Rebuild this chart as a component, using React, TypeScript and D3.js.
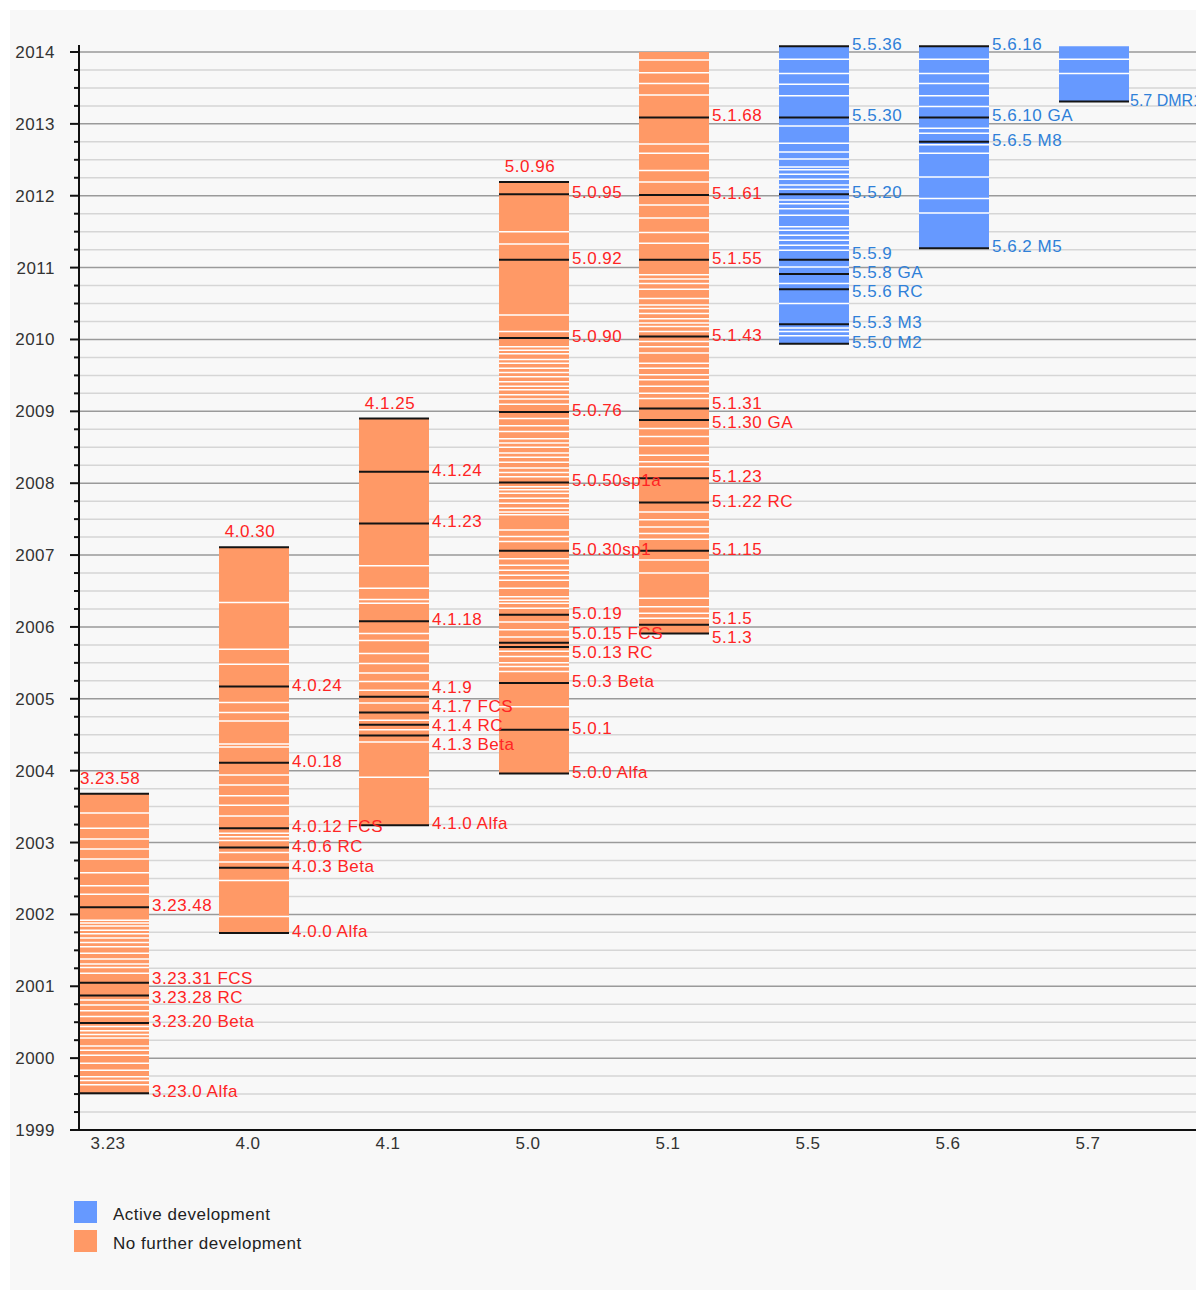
import * as d3 from 'd3';

// MySQL release timeline: one bar per major version, one line per release
const versions = ['3.23', '4.0', '4.1', '5.0', '5.1', '5.5', '5.6', '5.7'];
const activeVersions = ['5.5', '5.6', '5.7'];
const yearLabels = [1999, 2000, 2001, 2002, 2003, 2004, 2005, 2006, 2007, 2008, 2009, 2010, 2011, 2012, 2013, 2014];

// top of each bar (last release, or "now" for lines still shipping)
const barEnds = [2003.68, 2007.11, 2008.9, 2012.19, 2014.0, 2014.08, 2014.08, 2014.08];

// named releases (black lines + label), [name, decimal year]
const named323: [string, number][] = [
  ['3.23.0 Alfa', 1999.51], ['3.23.20 Beta', 2000.49], ['3.23.28 RC', 2000.87],
  ['3.23.31 FCS', 2001.05], ['3.23.48', 2002.1], ['3.23.58', 2003.68],
];
const named40: [string, number][] = [
  ['4.0.0 Alfa', 2001.74], ['4.0.3 Beta', 2002.65], ['4.0.6 RC', 2002.93],
  ['4.0.12 FCS', 2003.2], ['4.0.18', 2004.11], ['4.0.24', 2005.17], ['4.0.30', 2007.11],
];
const named41: [string, number][] = [
  ['4.1.0 Alfa', 2003.24], ['4.1.3 Beta', 2004.49], ['4.1.4 RC', 2004.64], ['4.1.7 FCS', 2004.81],
  ['4.1.9', 2005.03], ['4.1.18', 2006.08], ['4.1.23', 2007.44], ['4.1.24', 2008.16], ['4.1.25', 2008.9],
];
const named50: [string, number][] = [
  ['5.0.0 Alfa', 2003.96], ['5.0.1', 2004.57], ['5.0.3 Beta', 2005.22], ['5.0.13 RC', 2005.72],
  ['5.0.15 FCS', 2005.78], ['5.0.19', 2006.17], ['5.0.30sp1', 2007.06], ['5.0.50sp1a', 2008.01],
  ['5.0.76', 2008.99], ['5.0.90', 2010.02], ['5.0.92', 2011.11], ['5.0.95', 2012.02], ['5.0.96', 2012.19],
];
const named51: [string, number][] = [
  ['5.1.3', 2005.91], ['5.1.5', 2006.03], ['5.1.15', 2007.06], ['5.1.22 RC', 2007.73],
  ['5.1.23', 2008.07], ['5.1.30 GA', 2008.88], ['5.1.31', 2009.04], ['5.1.43', 2010.04],
  ['5.1.55', 2011.11], ['5.1.61', 2012.01], ['5.1.68', 2013.09],
];
const named55: [string, number][] = [
  ['5.5.0 M2', 2009.94], ['5.5.3 M3', 2010.21], ['5.5.6 RC', 2010.7], ['5.5.8 GA', 2010.91],
  ['5.5.9', 2011.11], ['5.5.20', 2012.02], ['5.5.30', 2013.09], ['5.5.36', 2014.08],
];
const named56: [string, number][] = [
  ['5.6.2 M5', 2011.27], ['5.6.5 M8', 2012.75], ['5.6.10 GA', 2013.09], ['5.6.16', 2014.08],
];
const named57: [string, number][] = [['5.7 DMR1', 2013.31]];

// the other releases (white lines)
const minor323 = [
  1999.63, 1999.69, 1999.74, 1999.83, 1999.93, 2000.04, 2000.11, 2000.17, 2000.28, 2000.33, 2000.38,
  2000.44, 2000.58, 2000.66, 2000.74, 2000.81, 2001.18, 2001.26, 2001.31, 2001.38, 2001.46, 2001.55,
  2001.61, 2001.67, 2001.73, 2001.78, 2001.84, 2001.88, 2001.92, 2002.28, 2002.4, 2002.58, 2002.77,
  2002.91, 2003.05, 2003.2, 2003.41,
];
const minor40 = [
  2001.97, 2002.47, 2002.73, 2002.86, 2003.03, 2003.08, 2003.13, 2003.37, 2003.52, 2003.65, 2003.8,
  2003.94, 2004.33, 2004.37, 2004.69, 2004.81, 2004.95, 2005.48, 2005.69, 2006.34,
];
const minor41 = [
  2003.91, 2004.4, 2004.57, 2004.7, 2004.94, 2005.12, 2005.24, 2005.36, 2005.49, 2005.63, 2005.81,
  2005.91, 2006.33, 2006.38, 2006.54, 2006.85,
];
const minor50 = [
  2004.89, 2005.38, 2005.45, 2005.5, 2005.59, 2005.66, 2005.86, 2005.96, 2006.07, 2006.26, 2006.33,
  2006.37, 2006.42, 2006.54, 2006.65, 2006.72, 2006.79, 2006.86, 2006.95, 2007.19, 2007.26, 2007.35,
  2007.56, 2007.6, 2007.65, 2007.72, 2007.79, 2007.86, 2007.91, 2007.95, 2008.09, 2008.15, 2008.21,
  2008.29, 2008.36, 2008.42, 2008.5, 2008.56, 2008.62, 2008.72, 2008.8, 2008.9, 2009.1, 2009.17,
  2009.23, 2009.3, 2009.35, 2009.41, 2009.48, 2009.54, 2009.6, 2009.67, 2009.72, 2009.8, 2009.85,
  2009.9, 2010.11, 2010.34, 2011.33, 2011.5,
];
const minor51 = [
  2006.12, 2006.19, 2006.28, 2006.4, 2006.75, 2006.93, 2007.22, 2007.3, 2007.39, 2007.49, 2007.6,
  2008.23, 2008.3, 2008.39, 2008.52, 2008.65, 2008.76, 2009.18, 2009.25, 2009.35, 2009.44, 2009.51,
  2009.6, 2009.67, 2009.81, 2009.9, 2009.97, 2010.11, 2010.18, 2010.23, 2010.29, 2010.36, 2010.43,
  2010.48, 2010.57, 2010.7, 2010.78, 2010.84, 2010.9, 2011.34, 2011.49, 2011.69, 2011.87, 2012.19,
  2012.35, 2012.59, 2012.72, 2013.4, 2013.56, 2013.71, 2013.89,
];
const minor55 = [
  2010.05, 2010.11, 2010.16, 2010.5, 2010.78, 2011.01, 2011.24, 2011.31, 2011.38, 2011.45, 2011.52,
  2011.57, 2011.73, 2011.82, 2011.89, 2011.94, 2012.09, 2012.15, 2012.23, 2012.3, 2012.36, 2012.4,
  2012.51, 2012.61, 2012.73, 2012.97, 2013.39, 2013.55, 2013.7, 2013.9,
];
const minor56 = [
  2011.76, 2011.96, 2012.26, 2012.59, 2012.71, 2012.87, 2012.94, 2013.24, 2013.39, 2013.56, 2013.7, 2013.9,
];
const minor57 = [2013.7, 2013.9];

const namedAll = [named323, named40, named41, named50, named51, named55, named56, named57];
const minorAll = [minor323, minor40, minor41, minor50, minor51, minor55, minor56, minor57];

const FONT = '"Liberation Sans", Arial, sans-serif';
const ORANGE = '#ff9966';
const BLUE = '#6699ff';
const RED_TXT = '#ff2424';
const BLUE_TXT = '#2f80d8';

type Lbl = { text: string; y: number };

// push labels apart so they don't sit on top of each other
function spread(items: Lbl[], gap: number) {
  const s = items.slice().sort((a, b) => a.y - b.y);
  for (let it = 0; it < 200; it++) {
    let moved = false;
    for (let i = 1; i < s.length; i++) {
      const d = s[i].y - s[i - 1].y;
      if (d < gap - 0.01) {
        const m = (gap - d) / 2;
        s[i - 1].y -= m;
        s[i].y += m;
        moved = true;
      }
    }
    if (!moved) break;
  }
}

export default function App() {
  const width = 1196;
  const height = 1284;
  const left = 71;
  const right = 1190;

  const y = d3.scaleLinear().domain([1999, 2014]).range([1122, 44]);
  const x = d3.scaleBand().domain(versions).range([left, left + 140 * versions.length]);
  const barW = x.bandwidth() / 2;

  const quarters = d3.range(1999, 2014, 0.25).filter((q) => q % 1 !== 0);

  const bars = versions.map((v, i) => {
    const named = namedAll[i];
    const minor = minorAll[i];
    const start = d3.min([...named.map((d) => d[1]), ...minor]) as number;
    const end = barEnds[i];
    const x0 = x(v) as number;
    const isActive = activeVersions.includes(v);
    const top = named.find((d) => Math.abs(d[1] - end) < 0.005);
    const topAbove = top && end < 2013.5;
    const sideLabels: Lbl[] = named
      .filter((d) => !(topAbove && d === top))
      .map((d) => ({ text: d[0], y: y(d[1]) }));
    spread(sideLabels, 19);
    return { v, x0, start, end, named, minor, isActive, top: topAbove ? top : null, sideLabels };
  });

  return (
    <svg width={width} height={height} style={{ display: 'block', fontFamily: FONT }}>
      <rect x={2} y={2} width={1194} height={1280} fill="#f8f8f8" />

      {/* grid */}
      {quarters.map((q) => (
        <line key={'q' + q} x1={left} x2={right} y1={y(q)} y2={y(q)} stroke="#d6d6d6" strokeWidth={1.5} />
      ))}
      {yearLabels.map((yr) => (
        <line key={'g' + yr} x1={left} x2={right} y1={y(yr)} y2={y(yr)} stroke="#9a9a9a" strokeWidth={1.5} />
      ))}

      {/* bars */}
      {bars.map((b) => (
        <g key={b.v}>
          <rect x={b.x0} y={y(b.end)} width={barW} height={y(b.start) - y(b.end)} fill={b.isActive ? BLUE : ORANGE} />
          {b.minor.map((m) => (
            <line key={m} x1={b.x0} x2={b.x0 + barW} y1={y(m)} y2={y(m)} stroke="#fff" strokeWidth={1.5} />
          ))}
          {b.named.map((d) => (
            <line key={d[0]} x1={b.x0} x2={b.x0 + barW} y1={y(d[1])} y2={y(d[1])} stroke="#141414" strokeWidth={2} />
          ))}
        </g>
      ))}

      {/* release labels, on top of everything */}
      {bars.map((b) => {
        const fill = b.isActive ? BLUE_TXT : RED_TXT;
        const lx = b.x0 + barW + 3;
        const tight = lx + 80 > width;
        return (
          <g key={'l' + b.v} fill={fill}>
            {b.top && (
              <text x={b.x0 + barW / 2 - 4} y={y(b.end) - 10} textAnchor="middle" fontSize={17} letterSpacing={0.5}>
                {b.top[0]}
              </text>
            )}
            {b.sideLabels.map((l) => (
              <text
                key={l.text}
                x={tight ? b.x0 + barW + 1 : lx}
                y={l.y + 4}
                fontSize={tight ? 16 : 17}
                letterSpacing={tight ? 0 : 0.5}
              >
                {l.text}
              </text>
            ))}
          </g>
        );
      })}

      {/* y axis */}
      <line x1={left} x2={left} y1={37} y2={y(1999)} stroke="#111" strokeWidth={2} />
      {quarters.map((q) => (
        <line key={'mt' + q} x1={left - 5} x2={left} y1={y(q)} y2={y(q)} stroke="#111" strokeWidth={2} />
      ))}
      {yearLabels.map((yr) => (
        <g key={'t' + yr}>
          <line x1={left - 9} x2={left} y1={y(yr)} y2={y(yr)} stroke="#111" strokeWidth={2} />
          <text x={47} y={y(yr) + 6} textAnchor="end" fontSize={17} letterSpacing={0.5} fill="#333">
            {yr}
          </text>
        </g>
      ))}

      {/* x axis */}
      <line x1={left - 9} x2={right} y1={y(1999)} y2={y(1999)} stroke="#111" strokeWidth={2} />
      {versions.map((v) => (
        <text key={'x' + v} x={(x(v) as number) + 29} y={y(1999) + 19} textAnchor="middle" fontSize={17} letterSpacing={0.5} fill="#333">
          {v}
        </text>
      ))}

      {/* legend */}
      <rect x={66} y={1193} width={23} height={22} fill={BLUE} />
      <text x={105} y={1212} fontSize={17} letterSpacing={0.5} fill="#222">Active development</text>
      <rect x={66} y={1222} width={23} height={22} fill={ORANGE} />
      <text x={105} y={1241} fontSize={17} letterSpacing={0.5} fill="#222">No further development</text>
    </svg>
  );
}
